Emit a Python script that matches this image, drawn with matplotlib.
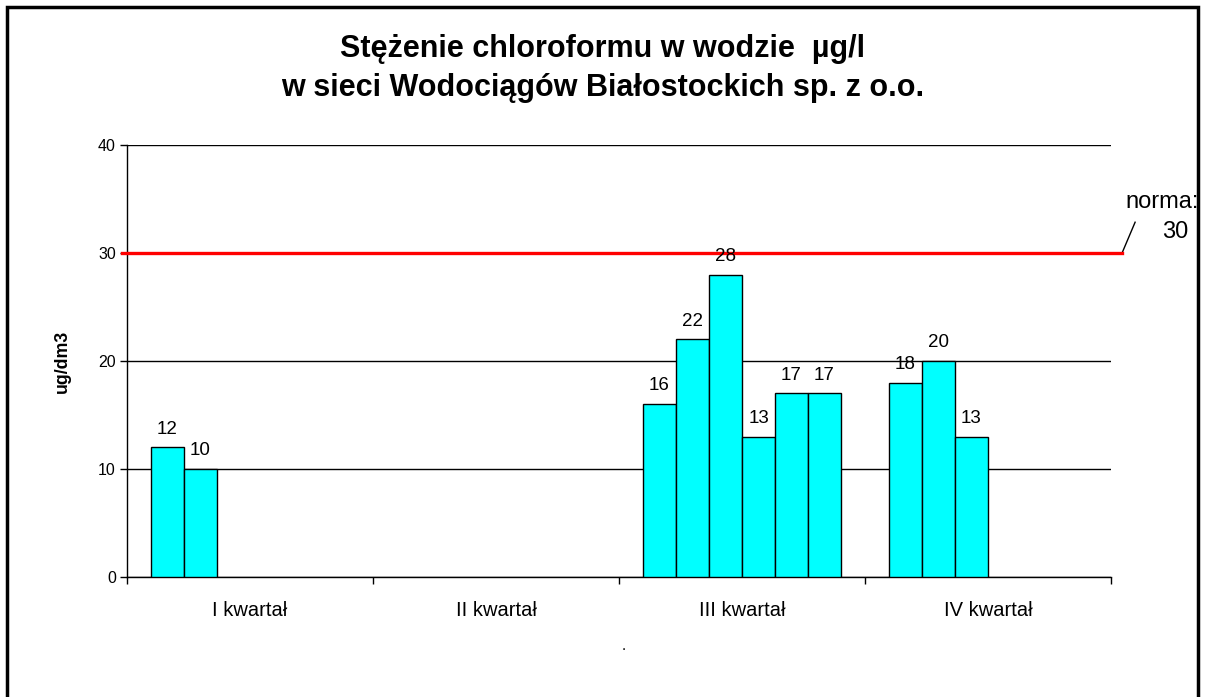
import numpy as np
import matplotlib
matplotlib.use("Agg")
import matplotlib.pyplot as plt
from matplotlib.patches import Rectangle

plt.rcParams['font.family'] = ['Liberation Sans', 'DejaVu Sans']

# data
quarters = ['I kwartał', 'II kwartał', 'III kwartał', 'IV kwartał']
nan = np.nan
s1 = [12, nan, 16, 18]
s2 = [10, nan, 22, 20]
s3 = [nan, nan, 28, 13]
s4 = [nan, nan, 13, nan]
s5 = [nan, nan, 17, nan]
s6 = [nan, nan, 17, nan]
series = [s1, s2, s3, s4, s5, s6]
norma = 30

fig = plt.figure(figsize=(12.05, 6.97), dpi=100)
ax = fig.add_axes([127/1205, 1 - 577/697, (1111 - 127)/1205, (577 - 145)/697])

x = np.arange(len(quarters))
w = 33 / 246
for i, s in enumerate(series):
    pos = x - 3 * w + (i + 0.5) * w
    vals = np.array(s, dtype=float)
    ax.bar(pos, vals, width=w, color='#00FFFF', edgecolor='black', linewidth=1, zorder=3)
    for p, v in zip(pos, vals):
        if not np.isnan(v):
            ax.annotate(f"{v:.0f}", (p, v), xytext=(0, 7), textcoords='offset points',
                        ha='center', va='bottom', fontsize=13.5, zorder=5)

# norm line + label
ax.plot([-0.52, 3.545], [norma, norma], color='red', lw=2.4, zorder=4, clip_on=False)
ax.plot([3.545, 3.598], [norma, 32.85], color='black', lw=1, clip_on=False)
fig.text(1125/1205, 1 - 202/697, 'norma:', fontsize=17, ha='left', va='center')
fig.text(1162/1205, 1 - 232/697, '30', fontsize=17, ha='left', va='center')

ax.set_xlim(-0.5, 3.5)
ax.set_ylim(0, 40)
ax.set_yticks([0, 10, 20, 30, 40])
ax.yaxis.grid(True, color='black', lw=1, zorder=0)
ax.set_axisbelow(True)
ax.tick_params(axis='y', direction='out', length=5, width=1, labelsize=11.5, pad=3)

ax.set_xticks(x)
ax.set_xticklabels(quarters, fontsize=14.5)
ax.set_xticks(np.arange(-0.5, 4, 1), minor=True)
ax.tick_params(axis='x', which='major', length=0, pad=17)
ax.tick_params(axis='x', which='minor', direction='out', length=5, width=1)

for side in ['top', 'right']:
    ax.spines[side].set_visible(False)
for side in ['left', 'bottom']:
    ax.spines[side].set_linewidth(1)

ax.set_ylabel('ug/dm3', fontsize=12.75, fontweight='bold')
ax.yaxis.set_label_coords(-0.057, 0.5)

fig.text(0.5, 1 - 57/697, 'Stężenie chloroformu w wodzie  µg/l', fontsize=22,
         fontweight='bold', ha='center', va='baseline')
fig.text(0.5, 1 - 96/697, 'w sieci Wodociągów Białostockich sp. z o.o.', fontsize=22,
         fontweight='bold', ha='center', va='baseline')
fig.text(624/1205, 1 - 646/697, '.', fontsize=11, ha='center', va='center')

# outer frame
fig.patches.append(Rectangle((7/1205, -0.05), (1198 - 7)/1205, 1.05 - 7/697,
                             transform=fig.transFigure, fill=False, edgecolor='black',
                             lw=2.5, zorder=10))

fig.savefig('out.png', dpi=100)
